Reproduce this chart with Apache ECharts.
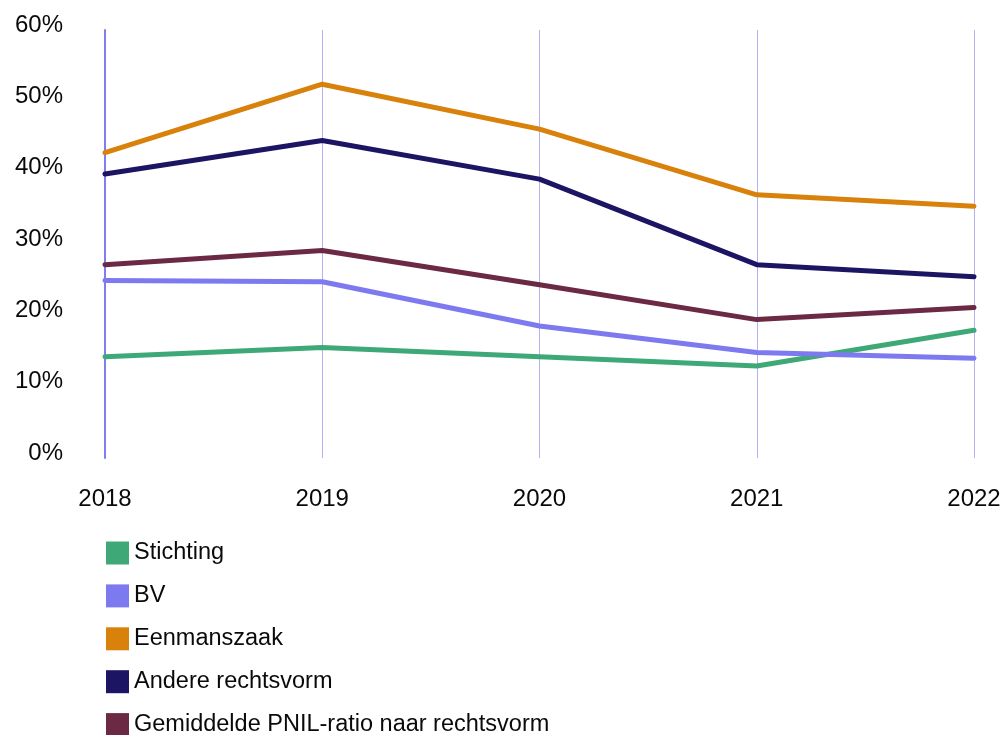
<!DOCTYPE html>
<html>
<head>
<meta charset="utf-8">
<script src="https://cdn.jsdelivr.net/npm/echarts@6/dist/echarts.min.js"></script>
<style>
  html, body { margin: 0; padding: 0; background: #ffffff; }
  #chart { width: 1004px; height: 735px; }
</style>
</head>
<body>
<div id="chart"></div>
<script>
// PNIL-ratio per rechtsvorm, 2018–2022 (percentages)
const years = ['2018', '2019', '2020', '2021', '2022'];
const yTicks = [0, 10, 20, 30, 40, 50, 60];

const stichting   = [14.2, 15.5, 14.2, 12.9, 17.9];
const bv          = [24.9, 24.7, 18.5, 14.8, 14.0];
const eenmanszaak = [42.8, 52.4, 46.1, 36.9, 35.3];
const andere      = [39.8, 44.5, 39.1, 27.1, 25.4];
const gemiddelde  = [27.1, 29.1, 24.3, 19.4, 21.1];

const seriesDefs = [
  { name: 'Stichting', data: stichting, color: '#3ea877' },
  { name: 'BV', data: bv, color: '#7d7af0' },
  { name: 'Eenmanszaak', data: eenmanszaak, color: '#d8820c' },
  { name: 'Andere rechtsvorm', data: andere, color: '#1c1563' },
  { name: 'Gemiddelde PNIL-ratio naar rechtsvorm', data: gemiddelde, color: '#6b2944' }
];

const FONT = '"Liberation Sans", Arial, sans-serif';
const TEXT = '#0a0a0a';

const chart = echarts.init(document.getElementById('chart'), null, { renderer: 'canvas' });

chart.setOption({
  animation: false,
  backgroundColor: '#ffffff',
  textStyle: { fontFamily: FONT },
  grid: { left: 105, right: 30, top: 30, bottom: 277, containLabel: false },
  legend: {
    orient: 'vertical',
    left: 101,
    top: 536,
    height: 260,
    icon: 'rect',
    itemWidth: 23,
    itemHeight: 23,
    itemGap: 18.9,
    textStyle: {
      fontFamily: FONT,
      fontSize: 23.5,
      color: TEXT,
      lineHeight: 23
    },
    data: seriesDefs.map(s => ({ name: s.name, itemStyle: { color: s.color } }))
  },
  xAxis: {
    type: 'category',
    data: years,
    boundaryGap: false,
    axisLine: { show: false },
    axisTick: { show: false },
    axisLabel: {
      margin: 29,
      fontSize: 24,
      color: TEXT,
      fontFamily: FONT
    },
    splitLine: { show: true, lineStyle: { color: '#b3b1f6', width: 1 } }
  },
  yAxis: {
    type: 'value',
    min: 0,
    max: 60,
    interval: 10,
    axisLine: { show: true, lineStyle: { color: '#7f7df0', width: 2 } },
    axisTick: { show: false },
    splitLine: { show: false },
    axisLabel: {
      margin: 42,
      fontSize: 24,
      color: TEXT,
      fontFamily: FONT,
      verticalAlign: 'bottom',
      lineHeight: 10,
      formatter: v => (yTicks.includes(v) ? v + '%' : '')
    }
  },
  series: seriesDefs.map(s => ({
    name: s.name,
    type: 'line',
    data: s.data,
    symbol: 'none',
    lineStyle: { color: s.color, width: 5, cap: 'round', join: 'round' },
    itemStyle: { color: s.color }
  }))
});
</script>
</body>
</html>
